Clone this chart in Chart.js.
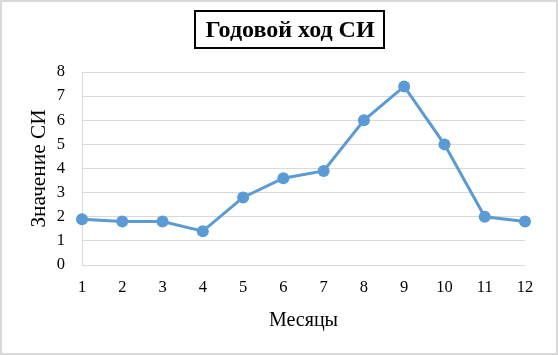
<!DOCTYPE html>
<html><head><meta charset="utf-8">
<script src="https://cdn.jsdelivr.net/npm/chart.js@4/dist/chart.umd.min.js"></script>
<style>html,body{margin:0;padding:0;background:#fff}#wrap{width:558px;height:355px;position:relative}</style>
</head><body><div id="wrap"><canvas id="c" width="558" height="355"></canvas></div>
<script>
const chartTitle = 'Годовой ход СИ';
const months = ['1','2','3','4','5','6','7','8','9','10','11','12'];
const siValues = [1.9, 1.8, 1.8, 1.4, 2.8, 3.6, 3.9, 6.0, 7.4, 5.0, 2.0, 1.8];
const xAxisTitle = 'Месяцы';
const yAxisTitle = 'Значение СИ';
const yMin = 0, yMax = 8, yStep = 1;

const serif = '"Liberation Serif", "Times New Roman", serif';
const gridColor = '#d9d9d9';
const lineColor = '#5b9bd5';

const framePlugin = {
  id: 'frame',
  beforeDraw(chart) {
    const ctx = chart.ctx;
    ctx.save();
    ctx.fillStyle = '#fff';
    ctx.fillRect(0, 0, chart.width, chart.height);
    ctx.strokeStyle = gridColor;
    ctx.lineWidth = 2;
    ctx.strokeRect(1, 1, chart.width - 2, chart.height - 2);
    ctx.restore();
  },
  afterDraw(chart) {
    const ctx = chart.ctx;
    ctx.save();
    ctx.font = 'bold 24px ' + serif;
    const w = ctx.measureText(chartTitle).width;
    const cx = 290, cy = 29.5;
    const bw = w + 20, bh = 37;
    ctx.strokeStyle = '#000';
    ctx.lineWidth = 2;
    ctx.strokeRect(Math.round(cx - bw / 2), Math.round(cy - bh / 2), Math.round(bw), bh);
    ctx.fillStyle = '#000';
    ctx.textAlign = 'center';
    ctx.textBaseline = 'middle';
    ctx.fillText(chartTitle, cx, cy + 1);
    ctx.restore();
  }
};

new Chart(document.getElementById('c'), {
  type: 'line',
  data: {
    labels: months,
    datasets: [{
      data: siValues,
      borderColor: lineColor,
      backgroundColor: lineColor,
      borderWidth: 3,
      pointRadius: 6,
      pointHoverRadius: 6,
      pointBorderWidth: 0,
      tension: 0,
      fill: false
    }]
  },
  options: {
    responsive: false,
    devicePixelRatio: 1,
    animation: false,
    layout: { padding: { left: 0, right: 33, top: 72, bottom: 0 } },
    plugins: { legend: { display: false }, title: { display: false }, tooltip: { enabled: false } },
    scales: {
      x: {
        offset: false,
        grid: { display: false, drawTicks: false },
        border: { display: false },
        ticks: { color: '#000', font: { family: serif, size: 16.5 }, padding: 13, maxRotation: 0, autoSkip: false },
        title: { display: true, text: xAxisTitle, color: '#000', font: { family: serif, size: 20 }, padding: { top: 0, bottom: 22 } },
        afterFit(s) { s.height = 90; }
      },
      y: {
        min: yMin, max: yMax,
        grid: { color: gridColor, lineWidth: 1, drawTicks: false },
        border: { display: true, color: gridColor, width: 1 },
        ticks: { stepSize: yStep, color: '#000', font: { family: serif, size: 16.5 }, padding: 17 },
        title: { display: true, text: yAxisTitle, color: '#000', font: { family: serif, size: 21.33 }, padding: { top: 27, bottom: 0 } },
        afterFit(s) { s.width = 82; }
      }
    }
  },
  plugins: [framePlugin]
});
</script></body></html>
